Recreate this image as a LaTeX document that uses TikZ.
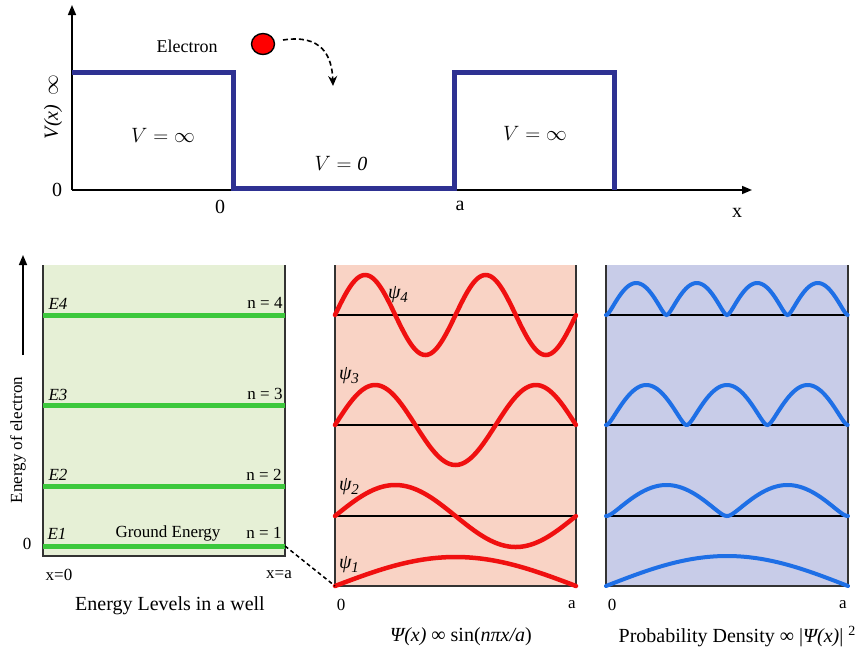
\documentclass[tikz,border=0pt]{standalone}
\usepackage{fontspec}
\setmainfont{Liberation Serif}
\usetikzlibrary{arrows.meta}
\definecolor{wellblue}{HTML}{2E3192}
\definecolor{greenfill}{HTML}{E6F0D6}
\definecolor{greenline}{HTML}{3CC83C}
\definecolor{pinkfill}{HTML}{F9D3C5}
\definecolor{wavered}{HTML}{F01010}
\definecolor{lavfill}{HTML}{C8CCE8}
\definecolor{waveblue}{HTML}{1E6FE6}
\begin{document}
\begin{tikzpicture}[x=1pt,y=-1pt,
  lab/.style={font=\fontsize{17}{20}\selectfont, inner sep=0pt},
  captxt/.style={font=\fontsize{20}{24}\selectfont, inner sep=0pt},
  axisline/.style={line width=1.6pt, -{Triangle[length=10pt,width=8pt]}},
  border/.style={line width=1.5pt, black!80},
  baseln/.style={line width=1.2pt, black},
  potline/.style={line width=5pt, wellblue, line join=miter},
  level/.style={line width=5pt, greenline},
  psicurve/.style={line width=4.5pt, wavered, line cap=round},
  probcurve/.style={line width=4pt, waveblue, line cap=round},
  declare function={sabs(\u)=(sqrt((\u)*(\u)+0.02)-0.141421)/0.868532;}
]
\useasboundingbox (0,0) rectangle (858,651);

% ---------- top panel ----------
\coordinate (origin) at (72,190);
\coordinate (ytip) at (72,5);
\coordinate (xtip) at (752,190);
\draw[axisline] (origin) -- (ytip);
\draw[axisline] (origin) -- (xtip);
\draw[potline] (72,72) -- (233,72) -- (233,188) -- (454,188) -- (454,72) -- (614,72) -- (614,190);

\node[captxt] (zeroY) at (57,190) {0};
\node[captxt] (zeroX) at (220,207) {0};
\node[captxt] (aX) at (460,206) {a};
\node[captxt] (xX) at (737,213) {x};
\node[captxt, rotate=90] (Vx) at (53,107) {\itshape V(x)\upshape\hspace{9pt}$\infty$};
\node[inner sep=0pt, font=\fontsize{20}{24}\selectfont] (Vinf1) at (163,135) {$V=\infty$};
\node[inner sep=0pt, font=\fontsize{20}{24}\selectfont] (Vinf2) at (535,133) {$V=\infty$};
\node[inner sep=0pt, font=\fontsize{20}{24}\selectfont] (V0) at (341,164) {$V=\mathit{0}$};
\node[lab, font=\fontsize{18}{22}\selectfont] (elec) at (187,46) {Electron};
\draw[black, line width=1.4pt, fill=red] (263,44) circle[x radius=11.5pt, y radius=10.5pt];
\coordinate (eStart) at (283,40);
\coordinate (eEnd) at (333,86);
\draw[line width=1.6pt, dash pattern=on 5pt off 3pt, -{Stealth[length=10pt,width=9pt]}]
  (eStart) .. controls (322,34) and (332,56) .. (eEnd);

% ---------- bottom-left panel ----------
\fill[greenfill] (43,265) rectangle (285,556);
\draw[border] (43,265) -- (43,556) -- (285,556) -- (285,265);
\draw[level] (43,315) -- (285,315);
\draw[level] (43,405) -- (285,405);
\draw[level] (43,486) -- (285,486);
\draw[level] (43,546) -- (285,546);
\node[lab] (E4) at (58,304) {\itshape E4};
\node[lab] (n4) at (265,303) {n = 4};
\node[lab] (E3) at (58,395) {\itshape E3};
\node[lab] (n3) at (265,394) {n = 3};
\node[lab] (E2) at (58,475) {\itshape E2};
\node[lab] (n2) at (264,475) {n = 2};
\node[lab] (E1) at (57,534) {\itshape E1};
\node[lab] (gnd) at (168,533) {Ground Energy};
\node[lab] (n1) at (264,533) {n = 1};
\node[lab] (zeroE) at (27,544) {0};
\node[lab] (x0) at (59,575) {x=0};
\node[lab] (xa) at (279,575) {x=a};
\node[captxt] (capL) at (170,606) {Energy Levels in a well};
\coordinate (ebot) at (23,355);
\coordinate (etop) at (23,255);
\draw[line width=1.6pt, -{Triangle[length=10pt,width=8pt]}] (ebot) -- (etop);
\node[lab, rotate=90] (eoe) at (18,440) {Energy of electron};

% ---------- middle panel ----------
\fill[pinkfill] (335,265) rectangle (576,586);
\draw[baseln] (335,315) -- (576,315);
\draw[baseln] (335,425) -- (576,425);
\draw[baseln] (335,516) -- (576,516);
\draw[border] (335,265) -- (335,586) -- (576,586) -- (576,265);
\draw[psicurve] plot[domain=0:1,samples=121,smooth,variable=\t] ({335+241*\t},{315-40*sin(720*\t)});
\draw[psicurve] plot[domain=0:1,samples=121,smooth,variable=\t] ({335+241*\t},{425-40*sin(540*\t)});
\draw[psicurve] plot[domain=0:1,samples=101,smooth,variable=\t] ({335+241*\t},{516-31*sin(360*\t)});
\draw[psicurve] plot[domain=0:1,samples=81,smooth,variable=\t] ({335+241*\t},{586-29*sin(180*\t)});
\node[captxt] (psi4) at (398,295) {\itshape ψ\raisebox{-4pt}{\fontsize{15}{18}\selectfont 4}};
\node[captxt] (psi3) at (349,376) {\itshape ψ\raisebox{-4pt}{\fontsize{15}{18}\selectfont 3}};
\node[captxt] (psi2) at (349,487) {\itshape ψ\raisebox{-4pt}{\fontsize{15}{18}\selectfont 2}};
\node[captxt] (psi1) at (349,565) {\itshape ψ\raisebox{-4pt}{\fontsize{15}{18}\selectfont 1}};
\node[lab] (zeroM) at (341,605) {0};
\node[lab] (aM) at (572,605) {a};
\node[captxt] (capM) at (461,637) {{\itshape Ψ(x)} ∞ sin({\itshape nπx/a})};
\coordinate (g1end) at (285,546);
\coordinate (midcorner) at (335,586);
\draw[line width=1.5pt, dash pattern=on 4pt off 3pt] (g1end) -- (midcorner);

% ---------- right panel ----------
\fill[lavfill] (606,265) rectangle (848,586);
\draw[baseln] (606,315) -- (848,315);
\draw[baseln] (606,425) -- (848,425);
\draw[baseln] (606,516) -- (848,516);
\draw[border] (606,265) -- (606,586) -- (848,586) -- (848,265);
\draw[probcurve] plot[domain=0:1,samples=161,smooth,variable=\t] ({606+242*\t},{315-32*sabs(sin(720*\t))});
\draw[probcurve] plot[domain=0:1,samples=161,smooth,variable=\t] ({606+242*\t},{425-40*sabs(sin(540*\t))});
\draw[probcurve] plot[domain=0:1,samples=121,smooth,variable=\t] ({606+242*\t},{516-31*sabs(sin(360*\t))});
\draw[probcurve] plot[domain=0:1,samples=81,smooth,variable=\t] ({606+242*\t},{586-30*sin(180*\t)});
\node[lab] (zeroR) at (612,605) {0};
\node[lab] (aR) at (843,605) {a};
\node[captxt] (capR) at (737,637) {Probability Density ∞ |{\itshape Ψ(x)}| \raisebox{7pt}{\fontsize{14}{16}\selectfont 2}};
\end{tikzpicture}
\end{document}
